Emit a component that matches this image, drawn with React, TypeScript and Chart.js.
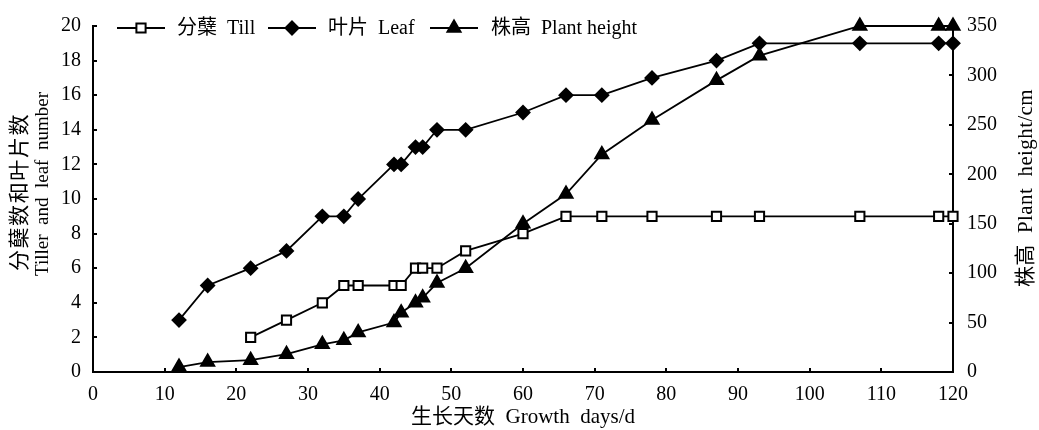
import React, { useEffect, useRef } from "react";
import { Chart, registerables } from "chart.js";

Chart.register(...registerables);

// ---- data ----
const tillerDays = [22, 27, 32, 35, 37, 42, 43, 45, 46, 48, 52, 60, 66, 71, 78, 87, 93, 107, 118, 120];
const tillerValues = [2, 3, 4, 5, 5, 5, 5, 6, 6, 6, 7, 8, 9, 9, 9, 9, 9, 9, 9, 9];

const leafDays = [12, 16, 22, 27, 32, 35, 37, 42, 43, 45, 46, 48, 52, 60, 66, 71, 78, 87, 93, 107, 118, 120];
const leafValues = [3, 5, 6, 7, 9, 9, 10, 12, 12, 13, 13, 14, 14, 15, 16, 16, 17, 18, 19, 19, 19, 19];

const heightDays = [12, 16, 22, 27, 32, 35, 37, 42, 43, 45, 46, 48, 52, 60, 66, 71, 78, 87, 93, 107, 118, 120];
const heightValues = [5, 10, 12, 18, 28, 32, 40, 50, 60, 70, 75, 90, 105, 150, 180, 220, 255, 295, 320, 350, 350, 350];

const seriesLabels = ["分蘖  Till", "叶片  Leaf", "株高  Plant height"];
const xTitle = "生长天数  Growth  days/d";
const yLeftTitleCn = "分蘖数和叶片数";
const yLeftTitleEn = "Tiller  and  leaf  number";
const yRightTitle = "株高  Plant  height/cm";

const FONT = '"Liberation Serif", "Times New Roman", "Noto Sans CJK SC", serif';
const pointStyles = ["rect", "rectRot", "triangle"];
const pointFills = ["#ffffff", "#000000", "#000000"];
const pointRadii = [6.5, 6.5, 7.5];
const legendLineStarts = [117, 268, 430];
const legendTextStarts = [177, 328, 491];

function toXY(xs: number[], ys: number[]) {
  return xs.map((x, i) => ({ x, y: ys[i] }));
}

function drawMarker(ctx: CanvasRenderingContext2D, style: string, x: number, y: number, r: number, fill: string) {
  ctx.save();
  ctx.beginPath();
  if (style === "rect") {
    const s = Math.SQRT1_2 * r;
    ctx.rect(x - s, y - s, 2 * s, 2 * s);
  } else if (style === "rectRot") {
    ctx.moveTo(x, y - r);
    ctx.lineTo(x + r, y);
    ctx.lineTo(x, y + r);
    ctx.lineTo(x - r, y);
    ctx.closePath();
  } else {
    const a = -Math.PI / 2;
    for (let k = 0; k < 3; k++) {
      const ang = a + (k * 2 * Math.PI) / 3;
      const px = x + Math.cos(ang) * r;
      const py = y + Math.sin(ang) * r;
      if (k === 0) ctx.moveTo(px, py);
      else ctx.lineTo(px, py);
    }
    ctx.closePath();
  }
  ctx.fillStyle = fill;
  ctx.fill();
  ctx.lineWidth = 2;
  ctx.strokeStyle = "#000";
  ctx.stroke();
  ctx.restore();
}

function rotatedText(ctx: CanvasRenderingContext2D, text: string, x: number, y: number, font: string, spacing: number) {
  ctx.save();
  ctx.translate(x, y);
  ctx.rotate(-Math.PI / 2);
  ctx.fillStyle = "#000";
  ctx.font = font;
  (ctx as any).letterSpacing = `${spacing}px`;
  ctx.textAlign = "center";
  ctx.textBaseline = "middle";
  ctx.fillText(text, 0, 0);
  ctx.restore();
}

const extrasPlugin = {
  id: "extras",
  afterDraw(chart: any) {
    const ctx: CanvasRenderingContext2D = chart.ctx;
    const area = chart.chartArea;
    const sx = chart.scales.x;
    const sy = chart.scales.y;
    const sy2 = chart.scales.y2;
    const tl = 4;
    ctx.save();
    ctx.strokeStyle = "#000";
    ctx.lineWidth = 2;
    ctx.beginPath();
    sx.ticks.forEach((t: any) => {
      const px = Math.round(sx.getPixelForValue(t.value));
      ctx.moveTo(px, area.bottom);
      ctx.lineTo(px, area.bottom - tl);
    });
    sy.ticks.forEach((t: any) => {
      const py = Math.round(sy.getPixelForValue(t.value));
      ctx.moveTo(area.left, py);
      ctx.lineTo(area.left + tl, py);
    });
    sy2.ticks.forEach((t: any) => {
      const py = Math.round(sy2.getPixelForValue(t.value));
      ctx.moveTo(area.right, py);
      ctx.lineTo(area.right - tl, py);
    });
    ctx.stroke();

    // axis titles drawn vertically (bottom to top)
    rotatedText(ctx, yLeftTitleCn, 20, 192, `21px ${FONT}`, 1.6);
    rotatedText(ctx, yLeftTitleEn, 43, 184, `19px ${FONT}`, 0);
    rotatedText(ctx, yRightTitle, 1026, 188, `21px ${FONT}`, 0.4);

    // legend
    const ly = 28;
    ctx.font = `20px ${FONT}`;
    ctx.textBaseline = "middle";
    ctx.textAlign = "left";
    seriesLabels.forEach((label, i) => {
      const lx = legendLineStarts[i];
      ctx.beginPath();
      ctx.lineWidth = 2;
      ctx.strokeStyle = "#000";
      ctx.moveTo(lx, ly);
      ctx.lineTo(lx + 48, ly);
      ctx.stroke();
      drawMarker(ctx, pointStyles[i], lx + 24, ly, pointRadii[i], pointFills[i]);
      ctx.fillStyle = "#000";
      ctx.fillText(label, legendTextStarts[i], ly + 1);
    });
    ctx.restore();
  },
};

export default function App() {
  const ref = useRef<HTMLCanvasElement>(null);

  useEffect(() => {
    document.body.style.margin = "0";
    const canvas = ref.current;
    if (!canvas) return;
    const common = {
      borderColor: "#000",
      borderWidth: 1.8,
      pointBorderColor: "#000",
      pointBorderWidth: 2,
      showLine: true,
      tension: 0,
      clip: false as any,
    };
    const chart = new Chart(canvas, {
      type: "scatter",
      data: {
        datasets: [
          {
            ...common,
            label: seriesLabels[0],
            data: toXY(tillerDays, tillerValues),
            yAxisID: "y",
            pointStyle: "rect",
            pointRadius: pointRadii[0],
            pointBackgroundColor: pointFills[0],
          },
          {
            ...common,
            label: seriesLabels[1],
            data: toXY(leafDays, leafValues),
            yAxisID: "y",
            pointStyle: "rectRot",
            pointRadius: pointRadii[1],
            pointBackgroundColor: pointFills[1],
          },
          {
            ...common,
            label: seriesLabels[2],
            data: toXY(heightDays, heightValues),
            yAxisID: "y2",
            pointStyle: "triangle",
            pointRadius: pointRadii[2],
            pointBackgroundColor: pointFills[2],
          },
        ],
      },
      options: {
        animation: false,
        responsive: false,
        devicePixelRatio: 1,
        layout: { padding: { top: 19, left: 0, right: 0, bottom: 0 } },
        plugins: {
          legend: { display: false },
          tooltip: { enabled: false },
        },
        scales: {
          x: {
            type: "linear",
            position: "bottom",
            min: 0,
            max: 120,
            ticks: { stepSize: 10, color: "#000", font: { family: FONT, size: 20 }, padding: 11, maxRotation: 0 },
            grid: { display: true, drawOnChartArea: false, drawTicks: false },
            border: { display: true, color: "#000", width: 2 },
            title: {
              display: true,
              text: xTitle,
              color: "#000",
              font: { family: FONT, size: 21 },
              padding: { top: 0, bottom: 0 },
            },
            afterFit: (s: any) => {
              s.height = 58;
            },
          },
          y: {
            type: "linear",
            position: "left",
            min: 0,
            max: 20,
            ticks: { stepSize: 2, color: "#000", font: { family: FONT, size: 20 }, padding: 12 },
            grid: { display: true, drawOnChartArea: false, drawTicks: false },
            border: { display: true, color: "#000", width: 2 },
            afterFit: (s: any) => {
              s.width = 93;
            },
          },
          y2: {
            type: "linear",
            position: "right",
            min: 0,
            max: 350,
            ticks: { stepSize: 50, color: "#000", font: { family: FONT, size: 20 }, padding: 14 },
            grid: { display: true, drawOnChartArea: false, drawTicks: false },
            border: { display: true, color: "#000", width: 2 },
            afterFit: (s: any) => {
              s.width = 86;
            },
          },
        },
      } as any,
      plugins: [extrasPlugin],
    });
    return () => chart.destroy();
  }, []);

  return (
    <div style={{ width: 1039, height: 430, background: "#fff" }}>
      <canvas ref={ref} width={1039} height={430} style={{ display: "block", width: 1039, height: 430 }} />
    </div>
  );
}
